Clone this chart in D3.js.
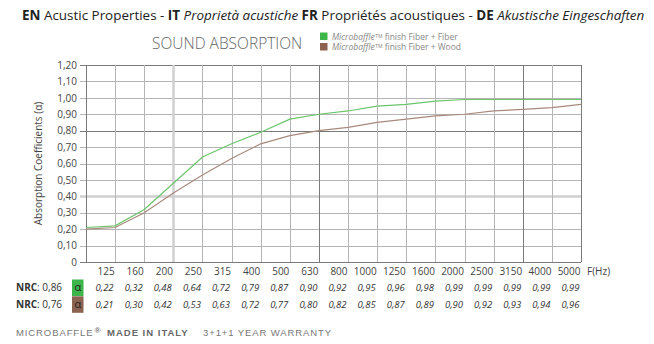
<!DOCTYPE html>
<html>
<head>
<meta charset="utf-8">
<script src="https://cdn.jsdelivr.net/npm/d3@7"></script>
<style>
  html, body { margin: 0; padding: 0; background: #fff; }
  svg { display: block; font-family: "Open Sans", sans-serif; }
</style>
</head>
<body>
<svg id="chart" width="654" height="344"></svg>
<script>
// Frequencies (Hz); the first one is the unlabelled start of the curves
const frequencies = [100, 125, 160, 200, 250, 315, 400, 500, 630, 800, 1000, 1250, 1600, 2000, 2500, 3150, 4000, 5000];
const fiberFiber = [0.21, 0.22, 0.32, 0.48, 0.64, 0.72, 0.79, 0.87, 0.90, 0.92, 0.95, 0.96, 0.98, 0.99, 0.99, 0.99, 0.99, 0.99];
const fiberWood  = [0.20, 0.21, 0.30, 0.42, 0.53, 0.63, 0.72, 0.77, 0.80, 0.82, 0.85, 0.87, 0.89, 0.90, 0.92, 0.93, 0.94, 0.96];
const yTicks = [0, 0.1, 0.2, 0.3, 0.4, 0.5, 0.6, 0.7, 0.8, 0.9, 1.0, 1.1, 1.2];
const seriesNames = ["finish Fiber + Fiber", "finish Fiber + Wood"];
const nrcValues = [0.86, 0.76];
const seriesColors = ["#6cc46c", "#a88a7c"];
const swatchColors = ["#3db54a", "#8c6351"];

const svg = d3.select("#chart");
const plot = { left: 86, right: 581, top: 65, bottom: 262 };

const x = d3.scalePoint().domain(frequencies).range([plot.left, plot.right]);
const y = d3.scaleLinear().domain([0, 1.2]).range([plot.bottom, plot.top]);
const comma = v => v === 0 ? "0" : d3.format(".2f")(v).replace(".", ",");

// Shrink a text's font size so that it spans the given width
function fitWidth(sel, width) {
  const fs = +sel.attr("font-size");
  const w = sel.node().getComputedTextLength();
  if (w > 0) sel.attr("font-size", fs * width / w);
}

// ---- Title ----
const title = svg.append("text").attr("x", 22).attr("y", 20)
  .attr("font-size", 14).attr("fill", "#222");
[["EN", "bold", "normal"], [" Acustic Properties - ", "normal", "normal"],
 ["IT", "bold", "normal"], [" Proprietà acustiche ", "normal", "italic"],
 ["FR", "bold", "normal"], [" Propriétés acoustiques - ", "normal", "normal"],
 ["DE", "bold", "normal"], [" Akustische Eingeschaften", "normal", "italic"]]
  .forEach(([t, w, s]) => title.append("tspan").attr("font-weight", w).attr("font-style", s).text(t));
fitWidth(title, 623);

svg.append("text").attr("x", 152).attr("y", 49)
  .attr("font-size", 15.5).attr("font-weight", 300).attr("fill", "#666")
  .text("SOUND ABSORPTION");

// ---- Legend ----
seriesNames.forEach((name, i) => {
  const ly = 32.5 + i * 10.5;
  svg.append("rect").attr("x", 320).attr("y", ly).attr("width", 7.5).attr("height", 7.5)
    .attr("fill", swatchColors[i]);
  const t = svg.append("text").attr("x", 332).attr("y", ly + 7.3)
    .attr("font-size", 8.5).attr("fill", "#888");
  t.append("tspan").attr("font-style", "italic").text("Microbaffle");
  t.append("tspan").attr("font-size", 5).attr("dx", 0.5).attr("baseline-shift", "45%").text("TM");
  t.append("tspan").text(" " + name);
});

// ---- Grid ----
const grid = svg.append("g");
// horizontal
yTicks.forEach(v => {
  let stroke = "#b5b5b5", w = 1;
  if (Math.abs(v - 0.4) < 1e-9) { stroke = "#cfcfcf"; w = 2.5; }
  if (Math.abs(v - 0.8) < 1e-9 || v === 1.2 || v === 0) { stroke = "#7a7a7a"; w = 1; }
  grid.append("line")
    .attr("x1", plot.left - 6).attr("x2", plot.right)
    .attr("y1", Math.round(y(v)) + 0.5).attr("y2", Math.round(y(v)) + 0.5)
    .attr("stroke", stroke).attr("stroke-width", w);
});
// vertical
frequencies.forEach(f => {
  let stroke = "#b5b5b5", w = 1;
  if (f === 200) { stroke = "#cfcfcf"; w = 2.5; }
  if (f === 630 || f === 3150 || f === 5000 || f === 100) { stroke = "#7a7a7a"; w = 1; }
  grid.append("line")
    .attr("x1", Math.round(x(f)) + 0.5).attr("x2", Math.round(x(f)) + 0.5)
    .attr("y1", plot.top).attr("y2", plot.bottom)
    .attr("stroke", stroke).attr("stroke-width", w);
});

// ---- Y axis labels ----
const yAxis = d3.axisLeft(y).tickValues(yTicks).tickSize(0).tickPadding(8).tickFormat(comma);
const ya = svg.append("g").attr("transform", `translate(${plot.left - 1},0)`).call(yAxis);
ya.select(".domain").remove();
ya.selectAll("text").attr("font-family", "Open Sans").attr("font-size", 10).attr("fill", "#444");

svg.append("text")
  .attr("transform", `translate(42,${(plot.top + plot.bottom) / 2}) rotate(-90)`)
  .attr("text-anchor", "middle").attr("font-size", 10).attr("fill", "#444")
  .text("Absorption Coefficients (α)");

// ---- Curves ----
const line = d3.line().x((d, i) => x(frequencies[i])).y(d => y(d));
[fiberFiber, fiberWood].forEach((vals, i) => {
  svg.append("path").datum(vals).attr("d", line)
    .attr("fill", "none").attr("stroke", seriesColors[i]).attr("stroke-width", 1.2);
});

// ---- X labels (frequencies) ----
const labelled = frequencies.slice(1);
const xa = d3.axisBottom(x).tickValues(labelled).tickSize(0).tickPadding(0);
const xg = svg.append("g").attr("transform", `translate(0,${plot.bottom + 13})`).call(xa);
xg.select(".domain").remove();
xg.selectAll("text").attr("font-family", "Open Sans").attr("font-size", 10).attr("fill", "#444")
  .attr("text-anchor", "end").attr("dx", -1).attr("dy", 0);
svg.append("text").attr("x", plot.right + 6).attr("y", plot.bottom + 13)
  .attr("font-size", 10).attr("fill", "#444").text("F(Hz)");

// ---- Value table ----
[fiberFiber, fiberWood].forEach((vals, i) => {
  const rowY = 291 + i * 17;
  const nrc = svg.append("text").attr("x", 16).attr("y", rowY)
    .attr("font-size", 10).attr("fill", "#333");
  nrc.append("tspan").attr("font-weight", "bold").text("NRC");
  nrc.append("tspan").text(": " + comma(nrcValues[i]));
  svg.append("rect").attr("x", 72).attr("y", 279.5 + i * 16.8)
    .attr("width", 11.5).attr("height", 16.5).attr("fill", swatchColors[i]);
  svg.append("text").attr("x", 77.8).attr("y", rowY).attr("text-anchor", "middle")
    .attr("font-size", 11).attr("fill", "#222").text("α");
  svg.append("g").selectAll("text").data(vals.slice(1)).join("text")
    .attr("x", (d, j) => x(labelled[j]) - 1.5).attr("y", rowY)
    .attr("text-anchor", "end").attr("font-size", 9.5).attr("font-style", "italic")
    .attr("fill", "#333").text(d => comma(d));
});

// ---- Footer ----
const footFont = "Liberation Sans, Arial, sans-serif";
const f1 = svg.append("text").attr("x", 16).attr("y", 336)
  .attr("font-family", footFont).attr("font-size", 9.5).attr("fill", "#777").attr("letter-spacing", 0.9);
f1.append("tspan").text("MICROBAFFLE");
f1.append("tspan").attr("font-size", 8).attr("font-weight", "bold").attr("dx", 1).attr("baseline-shift", "40%").text("®");
svg.append("text").attr("x", 107).attr("y", 336)
  .attr("font-family", footFont).attr("font-size", 9.5).attr("font-weight", "bold")
  .attr("fill", "#666").attr("letter-spacing", 1.0).text("MADE IN ITALY");
svg.append("text").attr("x", 203).attr("y", 336)
  .attr("font-family", footFont).attr("font-size", 9.5).attr("fill", "#777")
  .attr("letter-spacing", 0.9).text("3+1+1 YEAR WARRANTY");
</script>
</body>
</html>
